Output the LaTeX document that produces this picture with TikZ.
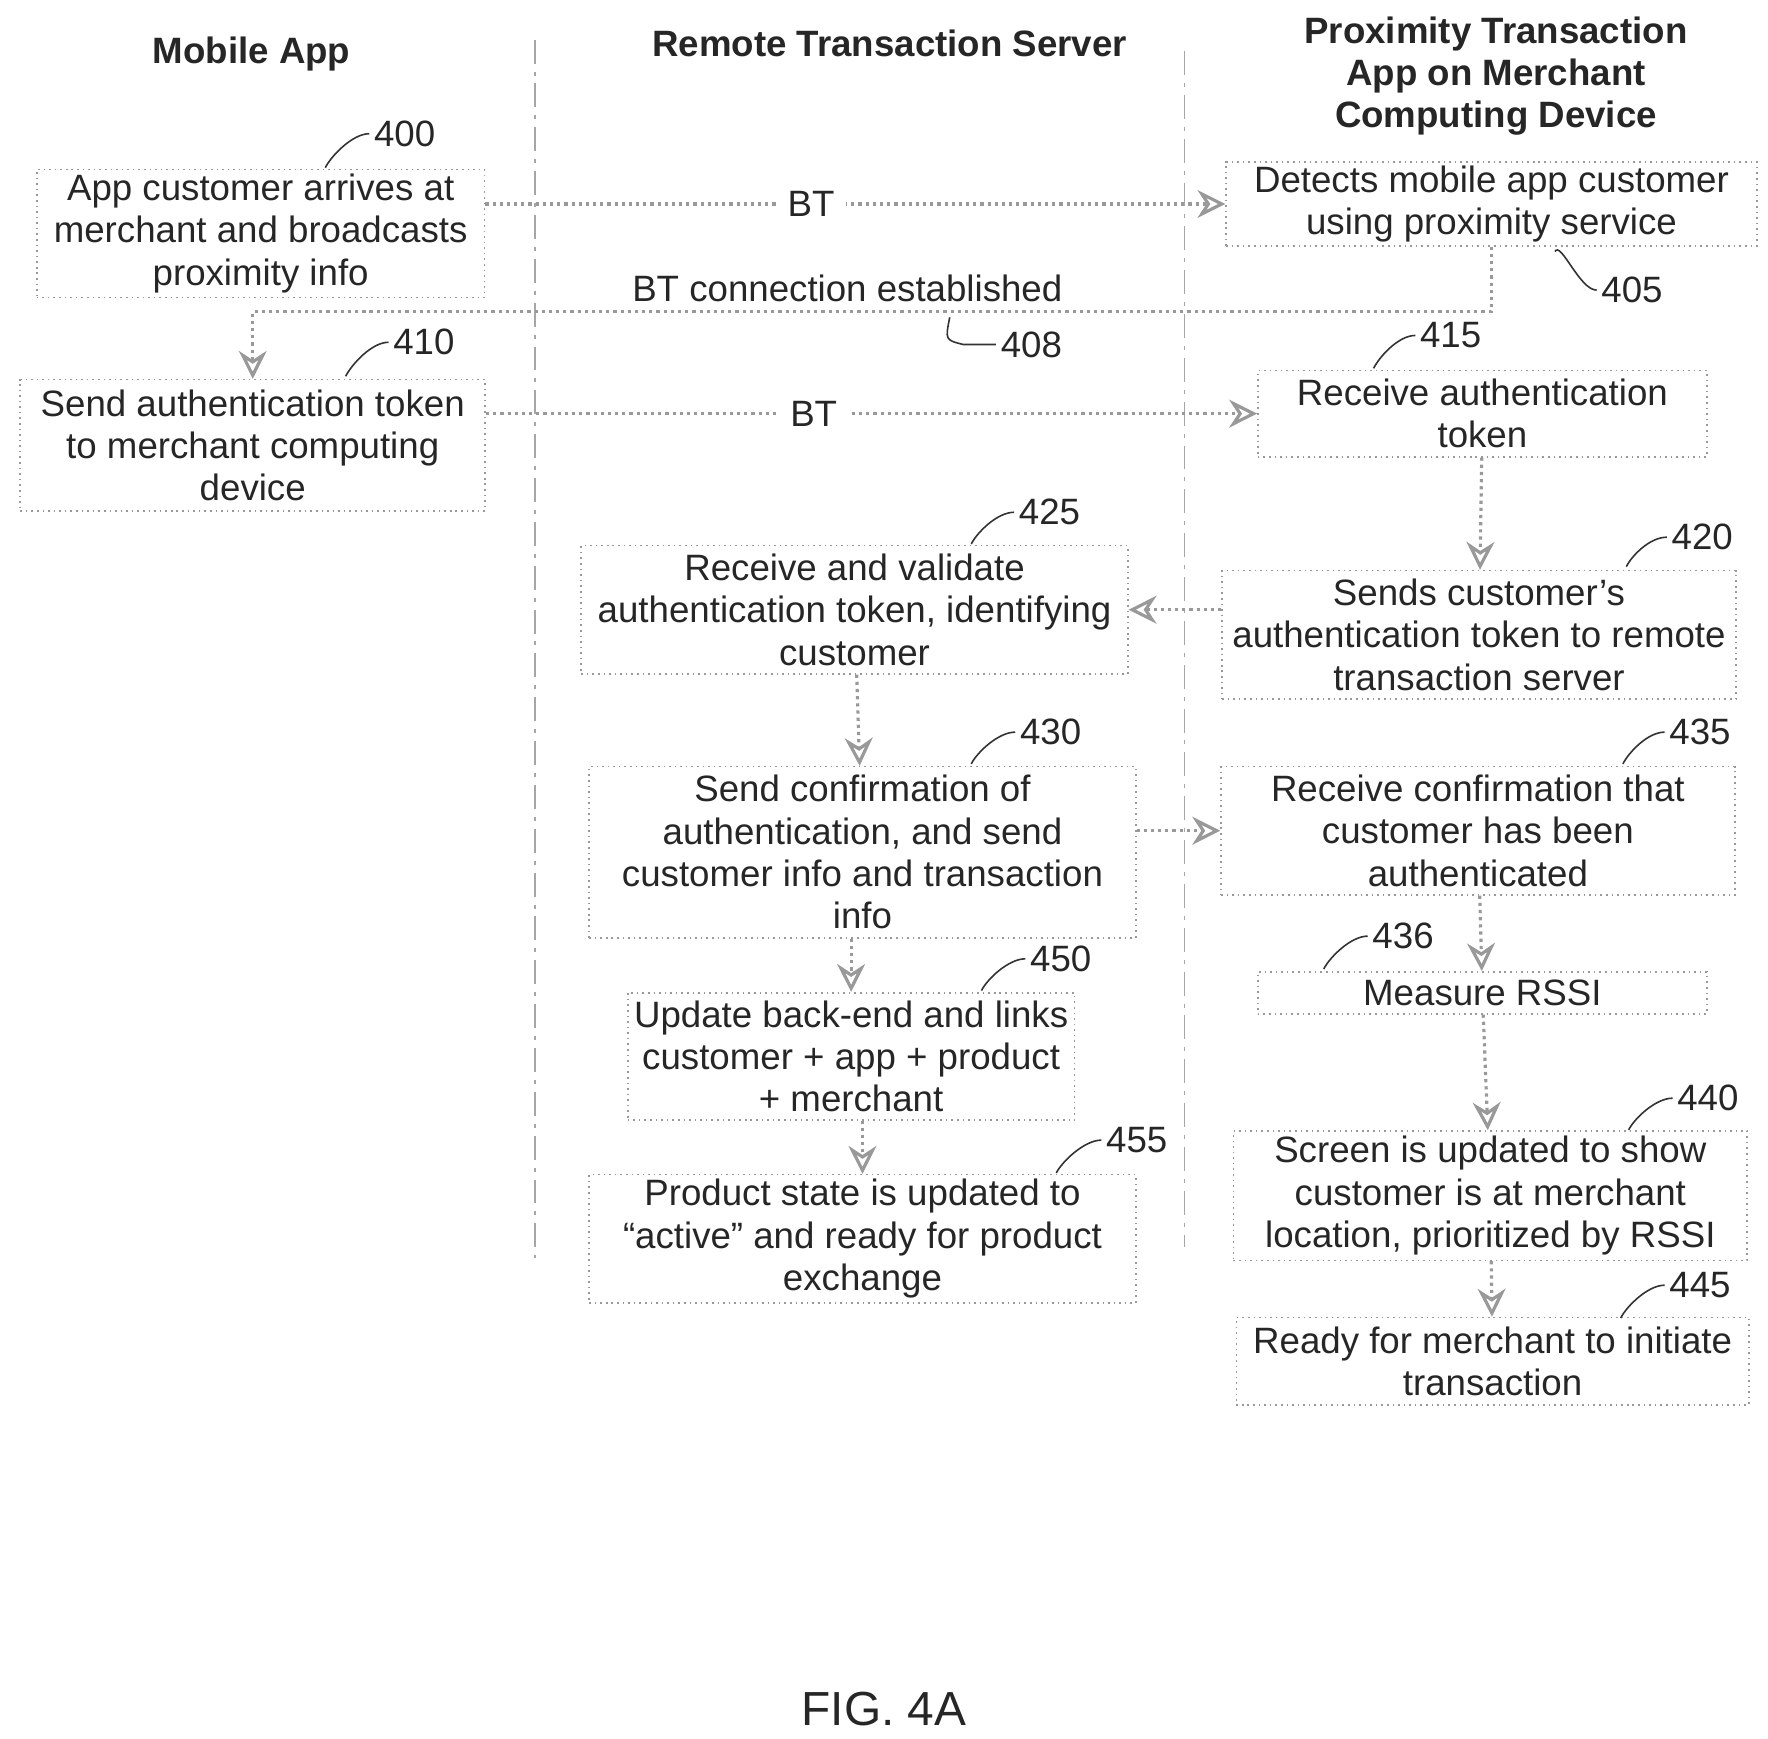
\documentclass[tikz,border=0pt]{standalone}
\usepackage{fontspec}
\setmainfont{Liberation Sans}
\usetikzlibrary{arrows.meta,positioning}
\tikzset{
  box/.style={draw=gray!80, densely dotted, align=center, inner sep=0pt,
    font=\fontsize{9.2}{10.6}\selectfont, text=black!85},
  flow/.style={draw=gray!80, densely dotted, thick, -{Stealth[open,length=7pt,width=7pt]}},
  lane/.style={draw=gray!70, dash pattern=on 6pt off 2pt on 1pt off 2pt},
  num/.style={font=\fontsize{9.2}{10.6}\selectfont, text=black!85, inner sep=1pt},
  lead/.style={draw=black!80, thin},
  head/.style={font=\bfseries\fontsize{9.2}{10.6}\selectfont, align=center, text=black!85},
}
\newcommand{\refnum}[4]{%
  \node[num] (#1) at (#2) {#3};
  \draw[lead] (#4) .. controls +(5,-10) and +(-15,0) .. (#1.west);}
\begin{document}
\begin{tikzpicture}[x=0.01cm,y=-0.01cm]
\useasboundingbox (0,0) rectangle (1560,1534);
% lanes
\draw[lane] (472,35) -- (472,1110);
\draw[lane] (1045,45) -- (1045,1100);
\node[head] (h1) at (222,48) {Mobile App};
\node[head] (h2) at (785,38) {Remote Transaction Server};
\node[head] (h3) at (1320,67) {Proximity Transaction\\App on Merchant\\Computing Device};
% boxes
\node[box, minimum width=3.95cm, minimum height=1.13cm] (b400) at (230,206) {App customer arrives at\\merchant and broadcasts\\proximity info};
\node[box, minimum width=4.68cm, minimum height=0.74cm] (b405) at (1316,180) {Detects mobile app customer\\using proximity service};
\node[box, minimum width=4.1cm, minimum height=1.16cm] (b410) at (223,393) {Send authentication token\\to merchant computing\\device};
\node[box, minimum width=3.96cm, minimum height=0.76cm] (b415) at (1308,365) {Receive authentication\\token};
\node[box, minimum width=4.82cm, minimum height=1.13cm] (b425) at (754,538) {Receive and validate\\authentication token, identifying\\customer};
\node[box, minimum width=4.53cm, minimum height=1.13cm] (b420) at (1305,560) {Sends customer's\\authentication token to remote\\transaction server};
\node[box, minimum width=4.82cm, minimum height=1.51cm] (b430) at (761,752) {Send confirmation of\\authentication, and send\\customer info and transaction\\info};
\node[box, minimum width=4.53cm, minimum height=1.13cm] (b435) at (1304,733) {Receive confirmation that\\customer has been\\authenticated};
\node[box, minimum width=3.94cm, minimum height=1.12cm] (b450) at (751,932) {Update back-end and links\\customer + app + product\\+ merchant};
\node[box, minimum width=3.96cm, minimum height=0.37cm] (b436) at (1308,876) {Measure RSSI};
\node[box, minimum width=4.53cm, minimum height=1.14cm] (b440) at (1315,1055) {Screen is updated to show\\customer is at merchant\\location, prioritized by RSSI};
\node[box, minimum width=4.82cm, minimum height=1.13cm] (b455) at (761,1093) {Product state is updated to\\``active'' and ready for product\\exchange};
\node[box, minimum width=4.52cm, minimum height=0.77cm] (b445) at (1317,1201) {Ready for merchant to initiate\\transaction};
% connectors
\draw[flow] (b400.east |- b405) -- node[fill=white, num, inner sep=3pt, pos=0.44] (bt1) {BT} (b405.west);
\coordinate (c1) at (b405.south |- 0,275);
\coordinate (c2) at (b410.north |- 0,275);
\draw[flow] (b405.south) -- (c1) -- node[num, above=1pt, pos=0.52] (bce) {BT connection established} (c2) -- (b410.north);
\draw[flow] (b410.east |- b415) -- node[fill=white, num, inner sep=3pt, pos=0.425] (bt2) {BT} (b415.west);
\draw[flow] (b415) -- (b420);
\draw[flow] (b420.west |- b425) -- (b425.east);
\draw[flow] (b425) -- (b430);
\draw[flow] (b430.east |- b435) -- (b435.west);
\draw[flow] (b435) -- (b436);
\draw[flow] (b436) -- (b440);
\draw[flow] (b440) -- (b445);
\draw[flow] (b430.south -| b450) -- (b450);
\draw[flow] (b450.south -| b455) -- (b455);
% reference numbers
\refnum{n400}{357,118}{400}{287,148}
\refnum{n405}{1440,256}{405}{1372,222}
\node[num] (n408) at (910,304) {408};
\draw[lead] (838,280) .. controls (834,300) .. (850,304) -- (n408.west);
\refnum{n410}{374,302}{410}{305,332}
\refnum{n415}{1280,296}{415}{1212,325}
\refnum{n425}{926,452}{425}{857,480}
\refnum{n420}{1502,474}{420}{1435,500}
\refnum{n430}{927,646}{430}{857,674}
\refnum{n435}{1500,646}{435}{1432,674}
\refnum{n436}{1238,826}{436}{1168,855}
\refnum{n450}{936,846}{450}{866,874}
\refnum{n455}{1003,1006}{455}{932,1035}
\refnum{n440}{1507,969}{440}{1437,997}
\refnum{n445}{1500,1134}{445}{1430,1163}
\node[font=\fontsize{12}{14}\selectfont, text=black!85] (fig) at (780,1508) {FIG. 4A};
\end{tikzpicture}
\end{document}
